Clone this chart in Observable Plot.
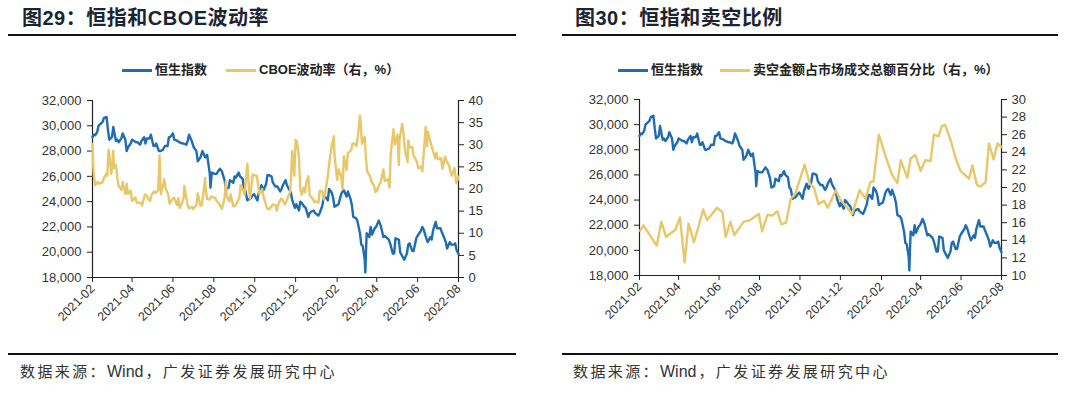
<!DOCTYPE html>
<html><head><meta charset="utf-8">
<script src="https://cdn.jsdelivr.net/npm/d3@7"></script>
<script src="https://cdn.jsdelivr.net/npm/@observablehq/plot@0.6"></script>
<style>
body{margin:0;background:#fff;width:1080px;height:399px;overflow:hidden;position:relative;font-family:"Liberation Sans",Arial,"Noto Sans CJK SC",sans-serif;}
.abs{position:absolute;}
.title{font-family:"Liberation Sans",Arial,"Noto Sans CJK SC",sans-serif;font-weight:bold;font-size:20px;line-height:24px;color:#1b2431;white-space:nowrap;letter-spacing:0.5px;}
.hr{height:2px;background:#111;}
.legend{font-family:"Liberation Sans",Arial,"Noto Sans CJK SC",sans-serif;font-size:13px;line-height:16px;font-weight:bold;color:#222;white-space:nowrap;display:flex;align-items:center;}
.legend .item{display:flex;align-items:center;}
.sw{display:inline-block;width:30px;height:3px;margin-right:3px;}
.src{font-family:"Liberation Sans",Arial,"Noto Sans CJK SC",sans-serif;font-size:15px;line-height:18px;color:#333;letter-spacing:2.4px;white-space:nowrap;}
.src .lat{letter-spacing:0;font-size:16px;margin-right:2px;}
</style></head><body>
<div class="abs title" style="left:22px;top:6px;">图29：恒指和CBOE波动率</div>
<div class="abs hr" style="left:8px;top:34px;width:508px;"></div>
<div class="abs title" style="left:575px;top:6px;">图30：恒指和卖空比例</div>
<div class="abs hr" style="left:562px;top:34px;width:496px;"></div>

<div class="abs legend" style="left:122px;top:62px;">
  <span class="item"><span class="sw" style="background:#1f6db0"></span>恒生指数</span>
  <span class="item" style="margin-left:19px;"><span class="sw" style="background:#e8c76a"></span>CBOE波动率（右，%）</span>
</div>
<div class="abs legend" style="left:618px;top:62px;">
  <span class="item"><span class="sw" style="background:#1f6db0"></span>恒生指数</span>
  <span class="item" style="margin-left:17px;"><span class="sw" style="background:#e8c76a"></span>卖空金额占市场成交总额百分比（右，%）</span>
</div>

<div id="c1" class="abs" style="left:0px;top:90px;"></div>
<div id="c2" class="abs" style="left:540px;top:89px;"></div>

<div class="abs hr" style="left:8px;top:353px;width:508px;height:1.5px;"></div>
<div class="abs hr" style="left:562px;top:353px;width:496px;height:1.5px;"></div>
<div class="abs src" style="left:20px;top:363px;">数据来源：<span class="lat">Wind</span>，广发证券发展研究中心</div>
<div class="abs src" style="left:573px;top:363px;">数据来源：<span class="lat">Wind</span>，广发证券发展研究中心</div>

<script>
// ---------- Data ----------
const hsiDates = ["2021-02-01","2021-02-03","2021-02-05","2021-02-08","2021-02-10","2021-02-16","2021-02-18","2021-02-22","2021-02-24","2021-02-26","2021-03-02","2021-03-04","2021-03-08","2021-03-10","2021-03-12","2021-03-16","2021-03-18","2021-03-22","2021-03-24","2021-03-26","2021-03-30","2021-04-01","2021-04-07","2021-04-09","2021-04-13","2021-04-15","2021-04-19","2021-04-21","2021-04-23","2021-04-27","2021-04-29","2021-05-03","2021-05-05","2021-05-07","2021-05-11","2021-05-13","2021-05-17","2021-05-20","2021-05-24","2021-05-26","2021-05-28","2021-06-01","2021-06-03","2021-06-08","2021-06-10","2021-06-15","2021-06-17","2021-06-21","2021-06-23","2021-06-25","2021-06-29","2021-07-02","2021-07-06","2021-07-08","2021-07-12","2021-07-15","2021-07-19","2021-07-22","2021-07-26","2021-07-27","2021-07-29","2021-08-02","2021-08-05","2021-08-10","2021-08-13","2021-08-17","2021-08-19","2021-08-23","2021-08-25","2021-08-30","2021-09-01","2021-09-03","2021-09-07","2021-09-09","2021-09-13","2021-09-15","2021-09-17","2021-09-20","2021-09-22","2021-09-24","2021-09-28","2021-09-30","2021-10-05","2021-10-07","2021-10-11","2021-10-14","2021-10-18","2021-10-20","2021-10-22","2021-10-26","2021-10-28","2021-11-01","2021-11-04","2021-11-08","2021-11-10","2021-11-12","2021-11-16","2021-11-18","2021-11-22","2021-11-24","2021-11-26","2021-11-30","2021-12-02","2021-12-06","2021-12-08","2021-12-10","2021-12-14","2021-12-16","2021-12-20","2021-12-22","2021-12-24","2021-12-28","2021-12-30","2022-01-04","2022-01-06","2022-01-10","2022-01-12","2022-01-14","2022-01-18","2022-01-20","2022-01-24","2022-01-26","2022-01-28","2022-02-03","2022-02-07","2022-02-09","2022-02-11","2022-02-15","2022-02-17","2022-02-21","2022-02-23","2022-02-25","2022-03-01","2022-03-03","2022-03-07","2022-03-09","2022-03-11","2022-03-14","2022-03-15","2022-03-16","2022-03-17","2022-03-21","2022-03-23","2022-03-25","2022-03-29","2022-03-31","2022-04-04","2022-04-07","2022-04-11","2022-04-13","2022-04-19","2022-04-21","2022-04-25","2022-04-27","2022-04-29","2022-05-04","2022-05-06","2022-05-10","2022-05-12","2022-05-16","2022-05-18","2022-05-20","2022-05-24","2022-05-26","2022-05-30","2022-06-01","2022-06-06","2022-06-08","2022-06-10","2022-06-14","2022-06-16","2022-06-20","2022-06-22","2022-06-24","2022-06-28","2022-06-30","2022-07-05","2022-07-07","2022-07-11","2022-07-13","2022-07-15","2022-07-19","2022-07-21","2022-07-25","2022-07-27","2022-07-29","2022-08-01"];
const hsiValues = [29100,29300,29250,29500,30000,30300,30600,30700,29700,28900,29100,29900,28800,28900,28700,29000,29400,28900,28000,28300,28600,28900,28700,28700,28500,28800,29100,28600,29000,29000,29300,28400,28400,28600,28000,28000,28100,28400,28400,29100,29100,29400,28900,28800,28700,28600,28600,28500,28800,29300,28800,28300,28000,27200,27500,28000,27500,27700,26200,25100,26300,26200,26200,26600,26400,25700,25000,25100,25700,25500,26000,25900,26300,26000,25800,25000,24900,24100,24200,24200,24500,24600,24100,24700,25300,24900,25400,26100,26100,26000,25500,25200,25200,24800,25000,25300,25700,25300,24900,24700,24100,23500,23800,23300,24000,23900,23600,23500,22800,23100,23200,23300,23100,22900,23100,23700,24400,24400,24100,25000,24700,24300,23600,23800,24600,24800,24900,24400,24800,24200,23700,22800,22700,22500,21500,20600,20500,19500,18400,20100,21500,21200,22000,21400,21900,22000,22500,22100,21200,21300,21000,20700,19900,19900,21100,21000,20000,19600,19400,19900,20600,20700,20100,20100,21100,21300,21700,22000,21800,21100,20800,21200,21000,21700,22400,21900,21900,21600,21100,20800,20300,20800,20600,20600,20700,20200,19850];

const vixDates = ["2021-02-01","2021-02-02","2021-02-03","2021-02-05","2021-02-09","2021-02-11","2021-02-16","2021-02-18","2021-02-22","2021-02-23","2021-02-25","2021-02-26","2021-03-01","2021-03-03","2021-03-04","2021-03-05","2021-03-08","2021-03-10","2021-03-12","2021-03-16","2021-03-18","2021-03-22","2021-03-24","2021-03-26","2021-03-30","2021-04-01","2021-04-06","2021-04-08","2021-04-12","2021-04-14","2021-04-16","2021-04-20","2021-04-22","2021-04-26","2021-04-28","2021-04-30","2021-05-04","2021-05-06","2021-05-10","2021-05-12","2021-05-13","2021-05-14","2021-05-18","2021-05-19","2021-05-21","2021-05-25","2021-05-27","2021-06-01","2021-06-03","2021-06-07","2021-06-09","2021-06-11","2021-06-15","2021-06-17","2021-06-18","2021-06-21","2021-06-23","2021-06-25","2021-06-29","2021-07-01","2021-07-06","2021-07-08","2021-07-12","2021-07-14","2021-07-16","2021-07-19","2021-07-20","2021-07-22","2021-07-26","2021-07-28","2021-07-30","2021-08-03","2021-08-05","2021-08-09","2021-08-11","2021-08-13","2021-08-17","2021-08-19","2021-08-20","2021-08-24","2021-08-26","2021-08-30","2021-09-01","2021-09-03","2021-09-08","2021-09-10","2021-09-14","2021-09-16","2021-09-17","2021-09-20","2021-09-22","2021-09-24","2021-09-28","2021-09-30","2021-10-04","2021-10-06","2021-10-08","2021-10-12","2021-10-14","2021-10-18","2021-10-20","2021-10-22","2021-10-26","2021-10-28","2021-11-01","2021-11-03","2021-11-05","2021-11-09","2021-11-11","2021-11-15","2021-11-17","2021-11-19","2021-11-23","2021-11-26","2021-11-29","2021-11-30","2021-12-01","2021-12-03","2021-12-06","2021-12-08","2021-12-10","2021-12-13","2021-12-15","2021-12-17","2021-12-20","2021-12-22","2021-12-27","2021-12-29","2021-12-31","2022-01-04","2022-01-06","2022-01-10","2022-01-12","2022-01-14","2022-01-18","2022-01-20","2022-01-24","2022-01-26","2022-01-27","2022-01-28","2022-02-01","2022-02-03","2022-02-07","2022-02-09","2022-02-11","2022-02-15","2022-02-17","2022-02-22","2022-02-24","2022-02-28","2022-03-02","2022-03-04","2022-03-07","2022-03-08","2022-03-10","2022-03-14","2022-03-16","2022-03-18","2022-03-22","2022-03-24","2022-03-28","2022-03-30","2022-04-01","2022-04-05","2022-04-07","2022-04-11","2022-04-13","2022-04-18","2022-04-20","2022-04-22","2022-04-26","2022-04-28","2022-05-02","2022-05-04","2022-05-05","2022-05-09","2022-05-11","2022-05-13","2022-05-17","2022-05-18","2022-05-20","2022-05-24","2022-05-26","2022-05-31","2022-06-02","2022-06-06","2022-06-08","2022-06-10","2022-06-13","2022-06-15","2022-06-16","2022-06-21","2022-06-23","2022-06-27","2022-06-29","2022-07-01","2022-07-06","2022-07-08","2022-07-12","2022-07-14","2022-07-18","2022-07-20","2022-07-22","2022-07-26","2022-07-28","2022-07-29","2022-08-01"];
const vixValues = [30.2,25.6,22.9,20.9,21.6,21.2,21.5,22.5,23.5,23.0,28.9,27.9,23.4,26.7,28.6,24.7,25.5,22.6,20.7,19.8,21.6,18.9,21.2,18.9,19.6,17.3,18.1,16.9,16.9,16.9,16.3,18.7,18.7,17.6,17.3,18.6,19.5,19.1,19.7,27.6,23.1,18.8,21.3,22.2,20.2,18.8,16.7,17.9,18.0,16.4,17.9,15.7,17.0,18.1,20.7,17.9,16.3,15.6,16.0,15.5,16.4,19.0,16.2,16.3,18.5,22.5,19.7,17.7,17.6,18.3,18.2,18.0,17.3,16.7,16.0,15.5,17.9,21.7,18.6,17.2,18.8,16.1,16.1,16.4,18.0,20.9,19.5,18.7,20.8,25.7,20.9,17.8,23.3,23.1,23.0,21.0,18.8,20.0,18.4,16.3,15.5,15.4,16.0,16.5,16.4,15.1,16.5,17.8,17.7,16.5,17.1,17.9,19.4,28.6,23.0,27.2,31.1,30.7,27.2,19.9,18.7,20.3,19.3,21.6,22.9,18.6,17.7,17.0,17.2,16.9,19.6,19.4,17.6,19.2,22.8,25.6,29.9,31.2,31.9,27.7,22.0,24.4,22.9,20.0,27.4,24.3,28.1,28.8,30.3,30.2,29.7,32.0,36.5,35.1,30.2,31.8,26.7,23.9,22.9,21.7,20.8,19.3,19.6,21.0,21.6,24.4,21.8,22.2,20.3,28.2,33.5,30.0,32.3,25.4,31.2,34.7,32.6,28.9,26.1,31.0,29.4,29.5,27.5,26.2,24.7,25.1,24.0,27.8,34.0,29.6,33.0,30.2,29.1,27.0,28.2,26.7,27.0,24.6,27.3,26.4,25.3,23.9,23.0,24.7,22.3,21.3,22.8];

const shortDates = ["2021-02-02","2021-02-07","2021-02-27","2021-03-06","2021-03-13","2021-03-27","2021-04-03","2021-04-10","2021-04-16","2021-04-24","2021-04-30","2021-05-08","2021-05-14","2021-05-29","2021-06-06","2021-06-11","2021-06-18","2021-06-24","2021-07-08","2021-07-18","2021-07-31","2021-08-05","2021-08-13","2021-08-20","2021-08-28","2021-09-03","2021-09-10","2021-09-17","2021-09-24","2021-10-08","2021-10-16","2021-10-22","2021-10-29","2021-11-06","2021-11-12","2021-11-24","2021-12-01","2021-12-19","2021-12-30","2022-01-08","2022-01-15","2022-01-20","2022-01-28","2022-02-07","2022-02-17","2022-02-25","2022-03-02","2022-03-12","2022-03-17","2022-03-24","2022-04-01","2022-04-08","2022-04-16","2022-04-21","2022-04-28","2022-05-03","2022-05-08","2022-05-17","2022-05-24","2022-05-31","2022-06-13","2022-06-18","2022-06-25","2022-06-30","2022-07-08","2022-07-13","2022-07-20","2022-07-26","2022-08-01"];
const shortValues = [15.1,15.7,13.4,16.1,14.4,15.2,16.6,11.5,15.9,13.8,15.3,17.5,16.3,17.7,17.2,14.4,16.1,14.6,16.1,16.3,17.0,15.0,16.9,16.8,17.3,15.8,16.0,18.7,19.3,22.6,20.4,20.0,18.1,18.5,17.7,19.7,18.6,17.0,19.7,18.7,20.6,20.7,26.0,23.6,21.4,20.5,23.1,21.1,23.3,23.7,21.9,23.1,23.0,26.0,25.8,27.0,27.1,25.2,23.3,21.9,21.0,22.5,20.3,20.1,20.6,25.0,23.2,25.0,24.6];

const xTickLabels = ["2021-02","2021-04","2021-06","2021-08","2021-10","2021-12","2022-02","2022-04","2022-06","2022-08"];
const leftTicks = [18000,20000,22000,24000,26000,28000,30000,32000];
const vixTicks = [0,5,10,15,20,25,30,35,40];
const shortTicks = [10,12,14,16,18,20,22,24,26,28,30];

// ---------- Build ----------
const BLUE = "#1f6db0", YELLOW = "#e8c76a";
const parse = d3.utcParse("%Y-%m-%d");
const parseM = d3.utcParse("%Y-%m");
const hsi = hsiDates.map((d,i)=>({date:parse(d), value:hsiValues[i]}));
const vix = vixDates.map((d,i)=>({date:parse(d), value:vixValues[i]}));
const shortR = shortDates.map((d,i)=>({date:parse(d), value:shortValues[i]}));
const xTicks = xTickLabels.map(parseM);
const xDomain = [xTicks[0], xTicks[xTicks.length-1]];
const yDomain = [18000, 32000];

function makeChart(sec, secLo, secHi, secTicks, mL, mR, mB) {
  const toY = v => yDomain[0] + (v - secLo) / (secHi - secLo) * (yDomain[1] - yDomain[0]);
  const fromY = y => Math.round((y - yDomain[0]) / (yDomain[1] - yDomain[0]) * (secHi - secLo) + secLo);
  return Plot.plot({
    width: 540, height: 250, marginLeft: mL, marginRight: mR, marginTop: 10, marginBottom: mB,
    style: {fontFamily: "Liberation Sans, Arial, sans-serif", fontSize: "13px", color: "#333", background: "transparent", overflow: "visible"},
    x: {type: "utc", domain: xDomain},
    y: {domain: yDomain},
    marks: [
      Plot.axisY({ticks: leftTicks, tickFormat: d => d3.format(",")(d), tickSize: 5, tickPadding: 6, label: null, stroke: "#222"}),
      Plot.axisY({anchor: "right", ticks: secTicks.map(toY), tickFormat: fromY, tickSize: 5, tickPadding: 5, label: null, stroke: "#222"}),
      Plot.axisX({ticks: xTicks, tickFormat: d3.utcFormat("%Y-%m"), tickRotate: -45, tickSize: 5, tickPadding: 4, label: null, fontSize: 12.5, stroke: "#222"}),
      Plot.ruleX([xDomain[0], xDomain[1]], {stroke: "#222", strokeWidth: 1.2}),
      Plot.ruleY([yDomain[0]], {stroke: "#222", strokeWidth: 1.2}),
      Plot.lineY(hsi, {x: "date", y: "value", stroke: BLUE, strokeWidth: 2.4}),
      Plot.lineY(sec, {x: "date", y: d => toY(d.value), stroke: YELLOW, strokeWidth: 2.4})
    ]
  });
}

document.getElementById("c1").appendChild(makeChart(vix, 0, 40, vixTicks, 92, 82, 63));
document.getElementById("c2").appendChild(makeChart(shortR, 10, 30, shortTicks, 99, 79, 64));
</script>
</body></html>
